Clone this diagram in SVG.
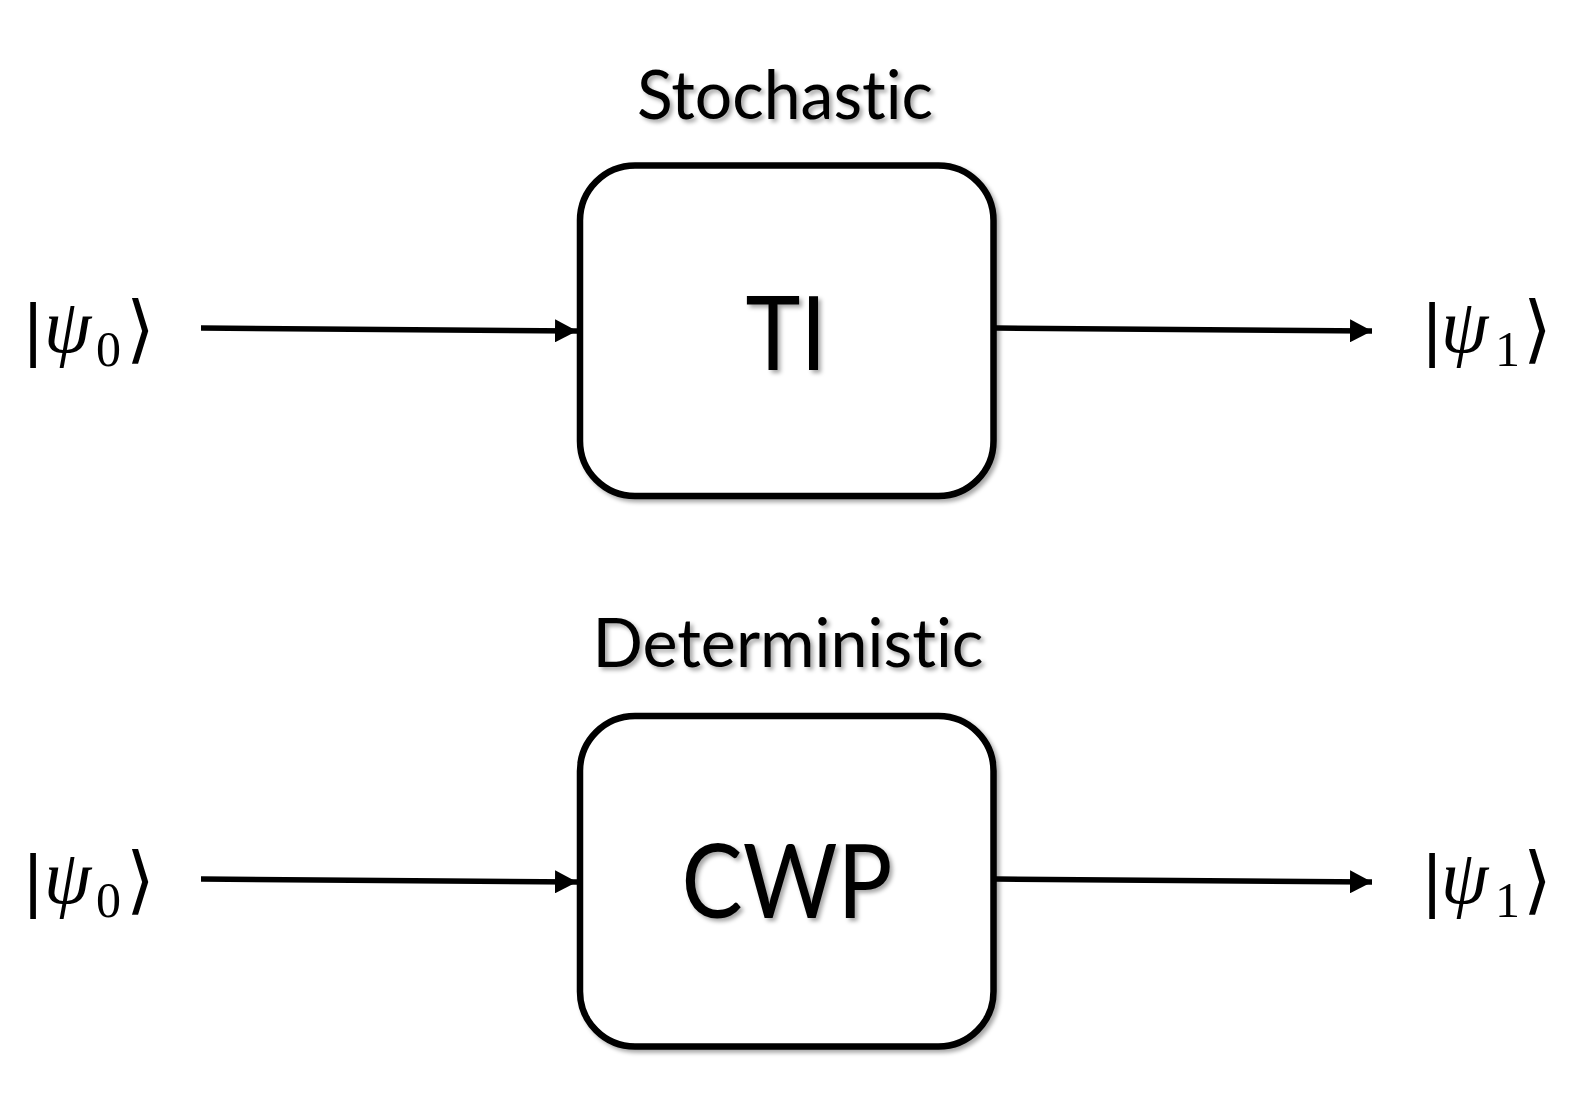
<svg xmlns="http://www.w3.org/2000/svg" width="1577" height="1116" viewBox="0 0 1577 1116">
<style>
.box{fill:#fff;stroke:#000;stroke-width:6.5}
.lbl{font-family:Lato,"Open Sans",sans-serif;fill:#000;text-anchor:middle;font-variant-ligatures:none;font-feature-settings:"liga" 0}
.big{font-family:Lato,"Open Sans",sans-serif;fill:#000;text-anchor:middle;font-size:103px}
.conn{stroke:#000;stroke-width:5.5;fill:none}
.bar{font-family:"Liberation Sans",sans-serif;font-size:70px}
.psi{font-family:"Liberation Serif",serif;font-style:italic;font-size:76px}
.sub{font-family:"Liberation Serif",serif;font-size:50px}
.ang{font-family:"DejaVu Serif",serif;font-size:74px}
</style>
<defs>
<filter id="sh" x="-10%" y="-10%" width="130%" height="130%">
<feDropShadow dx="3" dy="3" stdDeviation="2" flood-color="#000" flood-opacity="0.35"/>
</filter>
<marker id="ah" viewBox="0 0 22 23" refX="22" refY="11.5" markerWidth="22" markerHeight="23" orient="auto" markerUnits="userSpaceOnUse">
<path d="M0,0 L22,11.5 L0,23 z" fill="#000"/>
</marker>
</defs>
<rect width="1577" height="1116" fill="#fff"/>
<g id="node-ti">
<rect class="box" x="580" y="165.5" width="413.5" height="330.5" rx="55" filter="url(#sh)"/>
<text class="big" x="786" y="370" textLength="81" lengthAdjust="spacingAndGlyphs" filter="url(#sh)">TI</text>
</g>
<g id="label-stochastic">
<text class="lbl" x="785" y="119" font-size="67" textLength="296" lengthAdjust="spacingAndGlyphs" filter="url(#sh)">Stochastic</text>
</g>
<g id="node-cwp">
<rect class="box" x="580" y="716" width="413.5" height="330.5" rx="55" filter="url(#sh)"/>
<text class="big" x="787" y="918" textLength="211" lengthAdjust="spacingAndGlyphs" filter="url(#sh)">CWP</text>
</g>
<g id="label-deterministic">
<text class="lbl" x="788" y="667" font-size="67" textLength="391" lengthAdjust="spacingAndGlyphs" filter="url(#sh)">Deterministic</text>
</g>
<g id="ket-in-top">
<text class="bar" x="24" y="353">|</text>
<text class="psi" x="44" y="352">ψ</text>
<text class="sub" x="96" y="366">0</text>
<text class="ang" x="126" y="354">⟩</text>
</g>
<g id="ket-out-top">
<text class="bar" x="1423" y="353">|</text>
<text class="psi" x="1441" y="352">ψ</text>
<text class="sub" x="1495" y="366">1</text>
<text class="ang" x="1523" y="354">⟩</text>
</g>
<g id="ket-in-bottom">
<text class="bar" x="24" y="904">|</text>
<text class="psi" x="44" y="903">ψ</text>
<text class="sub" x="96" y="917">0</text>
<text class="ang" x="126" y="905">⟩</text>
</g>
<g id="ket-out-bottom">
<text class="bar" x="1423" y="904">|</text>
<text class="psi" x="1441" y="903">ψ</text>
<text class="sub" x="1495" y="917">1</text>
<text class="ang" x="1523" y="905">⟩</text>
</g>
<g id="connectors">
<line class="conn" x1="201" y1="328" x2="577" y2="331" marker-end="url(#ah)"/>
<line class="conn" x1="996" y1="328" x2="1372" y2="331" marker-end="url(#ah)"/>
<line class="conn" x1="201" y1="879" x2="577" y2="882" marker-end="url(#ah)"/>
<line class="conn" x1="996" y1="879" x2="1372" y2="882" marker-end="url(#ah)"/>
</g>
</svg>
